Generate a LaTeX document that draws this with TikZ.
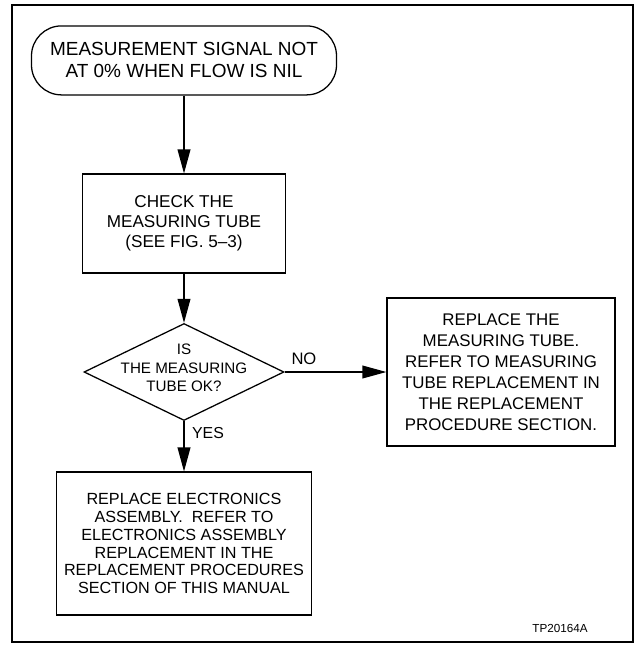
\documentclass[tikz,border=0pt]{standalone}
\usepackage{fontspec}
\setmainfont{Liberation Sans}
\usetikzlibrary{shapes.geometric,arrows.meta}

\tikzset{
  box/.style={draw,align=center,inner sep=0pt},
  decision/.style={draw,diamond,inner sep=0pt,minimum width=5cm,minimum height=2.425cm},
  flow/.style={-{Triangle[length=0.6cm,width=0.32cm]}},
}
\newcommand{\fs}[2]{\fontsize{#1}{#2}\selectfont}

\begin{document}
\begin{tikzpicture}[line width=0.9pt]
  \useasboundingbox (0,0) rectangle (15.975,-16.125);
  \draw[line width=1.2pt] (0.3,-0.125) rectangle (15.825,-16.05);
  \node[box,rounded corners=0.75cm,minimum width=7.625cm,minimum height=1.725cm,font=\fs{13.5}{15.6}]
    (start) at (4.6,-1.51) {MEASUREMENT SIGNAL NOT\\AT 0\% WHEN FLOW IS NIL};
  \node[box,minimum width=5.075cm,minimum height=2.475cm,font=\fs{12.2}{14.2}]
    (check) at (4.6,-5.59) {CHECK THE\\MEASURING TUBE\\(SEE FIG. 5--3)};
  \node[decision] (tubeok) at (4.6,-9.3) {};
  \node[align=center,font=\fs{10.8}{13.1}] (tubeoktxt) at (4.6,-9.2) {IS\\THE MEASURING\\TUBE OK?};
  \node[box,minimum width=5.7cm,minimum height=3.7cm,font=\fs{12}{14.9}]
    (newtube) at (12.525,-9.3) {REPLACE THE\\MEASURING TUBE.\\REFER TO MEASURING\\TUBE REPLACEMENT IN\\THE REPLACEMENT\\PROCEDURE SECTION.};
  \node[box,minimum width=6.375cm,minimum height=3.575cm,font=\fs{11.5}{12.6}]
    (newelec) at (4.6,-13.59) {REPLACE ELECTRONICS\\ASSEMBLY.\ \ REFER TO\\ELECTRONICS ASSEMBLY\\REPLACEMENT IN THE\\REPLACEMENT PROCEDURES\\SECTION OF THIS MANUAL};
  \draw[flow] (start) -- (check);
  \draw[flow] (check) -- (tubeok);
  \draw[flow] (tubeok) -- node[pos=0.19,above=0.05cm,font=\fs{11.8}{14}] (no) {NO} (newtube);
  \draw[flow] (tubeok) -- node[pos=0.23,right=0.07cm,font=\fs{11.3}{14}] (yes) {YES} (newelec);
  \node[font=\fs{8.3}{10}] (tpno) at (14,-15.72) {TP20164A};
\end{tikzpicture}
\end{document}
